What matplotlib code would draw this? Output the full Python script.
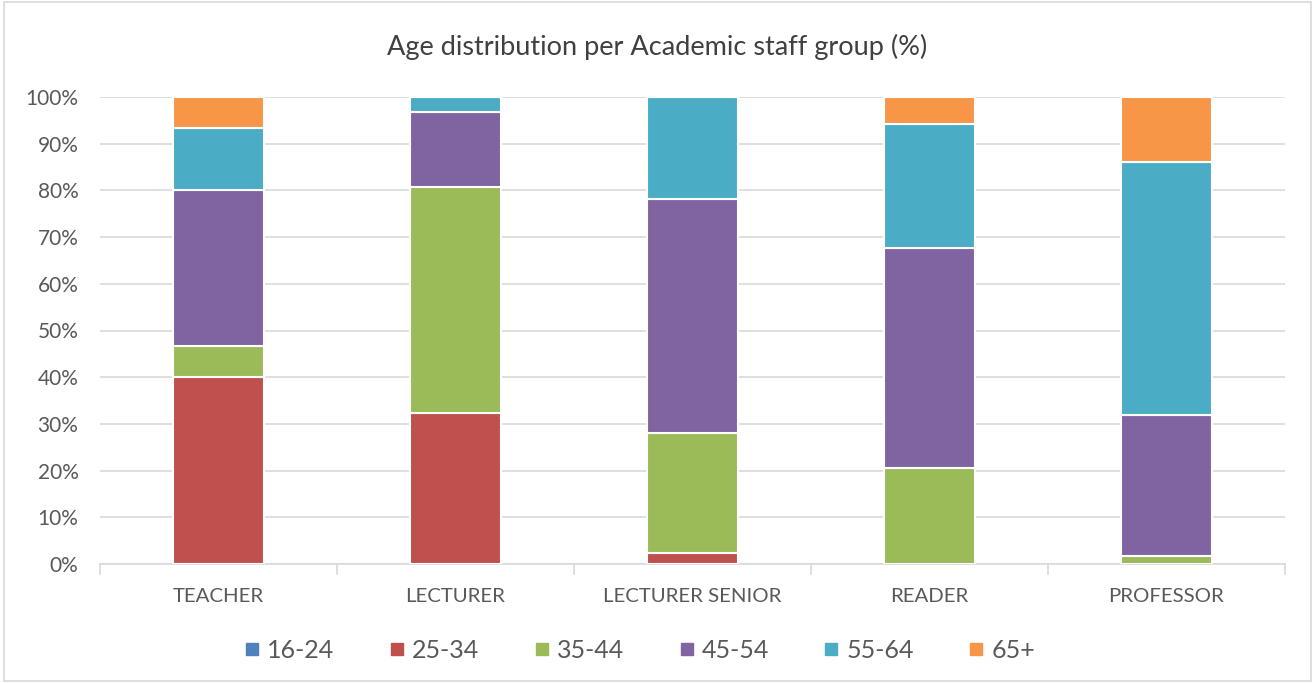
import matplotlib.pyplot as plt
import numpy as np
from matplotlib.patches import Rectangle
from matplotlib.lines import Line2D

plt.rcParams['font.family'] = ['Lato', 'DejaVu Sans']

groups = ['TEACHER', 'LECTURER', 'LECTURER SENIOR', 'READER', 'PROFESSOR']
age_bands = ['16-24', '25-34', '35-44', '45-54', '55-64', '65+']
colors = ['#4F81BD', '#C0504D', '#9BBB59', '#8064A2', '#4BACC6', '#F79646']

# share of each age band per group, in %
age_16_24 = [0.0, 0.0, 0.0, 0.0, 0.0]
age_25_34 = [40.0, 32.3, 2.4, 0.0, 0.0]
age_35_44 = [6.7, 48.4, 25.7, 20.6, 1.7]
age_45_54 = [33.3, 16.1, 50.1, 47.1, 30.2]
age_55_64 = [13.3, 3.2, 21.8, 26.5, 54.1]
age_65_up = [6.7, 0.0, 0.0, 5.9, 14.0]
series = [age_16_24, age_25_34, age_35_44, age_45_54, age_55_64, age_65_up]

fig = plt.figure(figsize=(13.15, 6.83), dpi=100)
ax = fig.add_axes([100 / 1315, 1 - 564 / 683, 1185 / 1315, 467 / 683])

x = np.arange(len(groups))
bottom = np.zeros(len(groups))
for vals, label, c in zip(series, age_bands, colors):
    vals = np.array(vals)
    ax.bar(x, vals, width=0.385, bottom=bottom, color=c, edgecolor='white',
           linewidth=1.5, label=label, zorder=3)
    bottom += vals

ax.set_xlim(-0.5, len(groups) - 0.5)
ax.set_ylim(0, 100)
ax.set_yticks(np.arange(0, 101, 10))
ax.set_yticklabels([f'{v}%' for v in range(0, 101, 10)])
ax.yaxis.grid(True, color='#D9D9D9', linewidth=1.2, zorder=0)
ax.set_axisbelow(True)

ax.set_xticks(x)
ax.set_xticklabels(groups)
ax.tick_params(axis='x', length=0, pad=17, labelsize=14.7, labelcolor='#595959')
ax.tick_params(axis='y', length=0, pad=15.5, labelsize=15, labelcolor='#595959')
# category separators below the axis
for b in np.arange(-0.5, len(groups), 1.0):
    ax.plot([b, b], [0, -2.2], color='#D9D9D9', linewidth=1.2, clip_on=False)

for s in ['top', 'right', 'left']:
    ax.spines[s].set_visible(False)
ax.spines['bottom'].set_color('#D9D9D9')
ax.spines['bottom'].set_linewidth(1.2)

fig.text(0.5, 1 - 47 / 683, 'Age distribution per Academic staff group (%)',
         ha='center', va='center', fontsize=19.5, color='#404040')

handles = [Line2D([], [], marker='s', linestyle='none', markersize=8,
                  markerfacecolor=c, markeredgecolor=c) for c in colors]
fig.legend(handles, age_bands, loc='center', ncol=6,
           bbox_to_anchor=(640 / 1315, 1 - 650 / 683), frameon=False,
           fontsize=18, labelcolor='#595959', handletextpad=0.3,
           columnspacing=2.2, handlelength=0.6)

fig.add_artist(Rectangle((0.003, 0.003), 0.994, 0.994, transform=fig.transFigure,
                         fill=False, edgecolor='#D9D9D9', linewidth=1.2))

fig.savefig('out.png', dpi=100)
